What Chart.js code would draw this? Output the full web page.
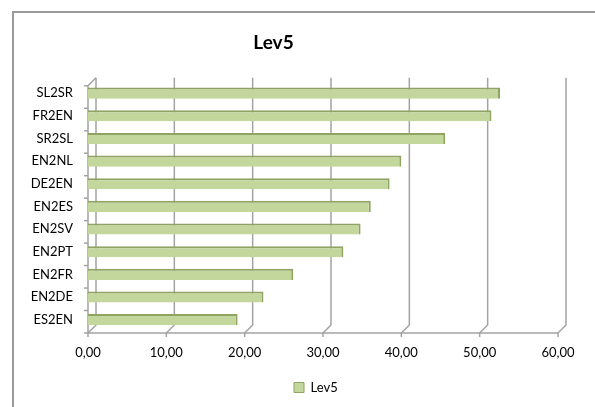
<!DOCTYPE html>
<html>
<head>
<meta charset="utf-8">
<script src="https://cdn.jsdelivr.net/npm/chart.js@4/dist/chart.umd.min.js"></script>
<style>
  html, body { margin: 0; padding: 0; background: #ffffff; }
  #wrap { position: relative; width: 595px; height: 407px; }
</style>
</head>
<body>
<div id="wrap"><canvas id="c" width="595" height="407"></canvas></div>
<script>
// ---- data ----
const categories = ['SL2SR', 'FR2EN', 'SR2SL', 'EN2NL', 'DE2EN', 'EN2ES', 'EN2SV', 'EN2PT', 'EN2FR', 'EN2DE', 'ES2EN'];
const lev5 = [52.6, 51.5, 45.6, 40.0, 38.5, 36.1, 34.8, 32.6, 26.2, 22.4, 19.1];
const xTickValues = [0, 10, 20, 30, 40, 50, 60];
const seriesName = 'Lev5';
const chartTitle = 'Lev5';

const FONT = 'Lato, "Open Sans", "Liberation Sans", sans-serif';
const GRID = '#a3a3a3';
const DEPTH = 8;

// 3D-like walls, grid and axes drawn through the chart scales
const wallPlugin = {
  id: 'walls',
  beforeDraw(chart) {
    const ctx = chart.ctx;
    ctx.save();
    ctx.fillStyle = '#ffffff';
    ctx.fillRect(0, 0, chart.width, chart.height);
    ctx.strokeStyle = '#9a9a9a';
    ctx.lineWidth = 2;
    ctx.strokeRect(13, 12, chart.width + 20, chart.height + 20);
    ctx.restore();
  },
  beforeDatasetsDraw(chart) {
    const ctx = chart.ctx;
    const xs = chart.scales.x;
    const a = chart.chartArea;
    const fTop = a.top + 4, fBot = a.bottom + 2;
    const bTop = fTop - DEPTH, bBot = fBot - DEPTH;
    const x0 = xs.getPixelForValue(xTickValues[0]);
    const xN = xs.getPixelForValue(xTickValues[xTickValues.length - 1]);
    ctx.save();
    ctx.strokeStyle = GRID;
    ctx.lineWidth = 1.5;
    // back-wall gridlines + floor diagonals + front ticks
    xTickValues.forEach(v => {
      const xf = xs.getPixelForValue(v);
      const xb = xf + DEPTH;
      ctx.beginPath();
      ctx.moveTo(xb, bTop);
      ctx.lineTo(xb, bBot);
      ctx.lineTo(xf, fBot);
      ctx.stroke();
      ctx.beginPath();
      ctx.moveTo(xf, fBot - 1);
      ctx.lineTo(xf, fBot + 4);
      ctx.stroke();
    });
    // front bottom axis
    ctx.beginPath();
    ctx.moveTo(x0, fBot);
    ctx.lineTo(xN, fBot);
    ctx.stroke();
    // front left axis + top diagonal
    ctx.beginPath();
    ctx.moveTo(x0 + DEPTH, bTop);
    ctx.lineTo(x0, fTop);
    ctx.lineTo(x0, fBot);
    ctx.stroke();
    // left axis ticks at category boundaries
    const n = categories.length;
    for (let i = 0; i <= n; i++) {
      const y = fTop + i * (fBot - fTop) / n;
      ctx.beginPath();
      ctx.moveTo(x0 - 4, y);
      ctx.lineTo(x0, y);
      ctx.stroke();
    }
    ctx.restore();
  },
  afterLayout(chart) {
    const t = chart.titleBlock;
    if (t) {
      const dx = 273.5 - (t.left + t.right) / 2;
      t.left += dx; t.right += dx;
    }
    const lg = chart.legend;
    if (lg && lg.lineWidths) {
      const pad = lg.options.labels.padding;
      const start = (lg.left + pad + lg.right - lg.lineWidths[0]) / 2;
      const dx = 294 - start;
      lg.left += dx; lg.right += dx;
    }
  }
};

new Chart(document.getElementById('c'), {
  type: 'bar',
  data: {
    labels: categories,
    datasets: [{
      label: seriesName,
      data: lev5,
      backgroundColor: '#c3d69b',
      borderColor: '#8fa363',
      borderWidth: { top: 2, right: 2, bottom: 0, left: 0 },
      borderSkipped: false,
      barPercentage: 0.49,
      categoryPercentage: 1.0
    }]
  },
  options: {
    indexAxis: 'y',
    responsive: false,
    animation: false,
    devicePixelRatio: 1,
    layout: { padding: { left: 14, right: 37, top: 0, bottom: 3 } },
    scales: {
      x: {
        min: xTickValues[0],
        max: xTickValues[xTickValues.length - 1],
        afterBuildTicks: s => { s.ticks = xTickValues.map(v => ({ value: v })); },
        afterFit: s => { s.height = 407 - 3 - s.chart.legend.height - 331; },
        grid: { display: false, drawTicks: false },
        border: { display: false },
        ticks: {
          padding: 14,
          color: '#000000',
          font: { family: FONT, size: 13 },
          callback: v => Number(v).toFixed(2).replace('.', ',')
        }
      },
      y: {
        afterFit: s => { s.width = 74; },
        grid: { display: false, drawTicks: false },
        border: { display: false },
        ticks: {
          padding: 15,
          color: '#000000',
          font: { family: FONT, size: 13 }
        }
      }
    },
    plugins: {
      title: {
        display: true,
        text: chartTitle,
        color: '#000000',
        font: { family: FONT, size: 19, weight: 'bold' },
        padding: { top: 31, bottom: 28 }
      },
      legend: {
        display: true,
        position: 'bottom',
        labels: {
          boxWidth: 10,
          boxHeight: 10,
          padding: 10,
          color: '#000000',
          font: { family: FONT, size: 13 }
        }
      },
      tooltip: { enabled: false }
    }
  },
  plugins: [wallPlugin]
});
</script>
</body>
</html>
